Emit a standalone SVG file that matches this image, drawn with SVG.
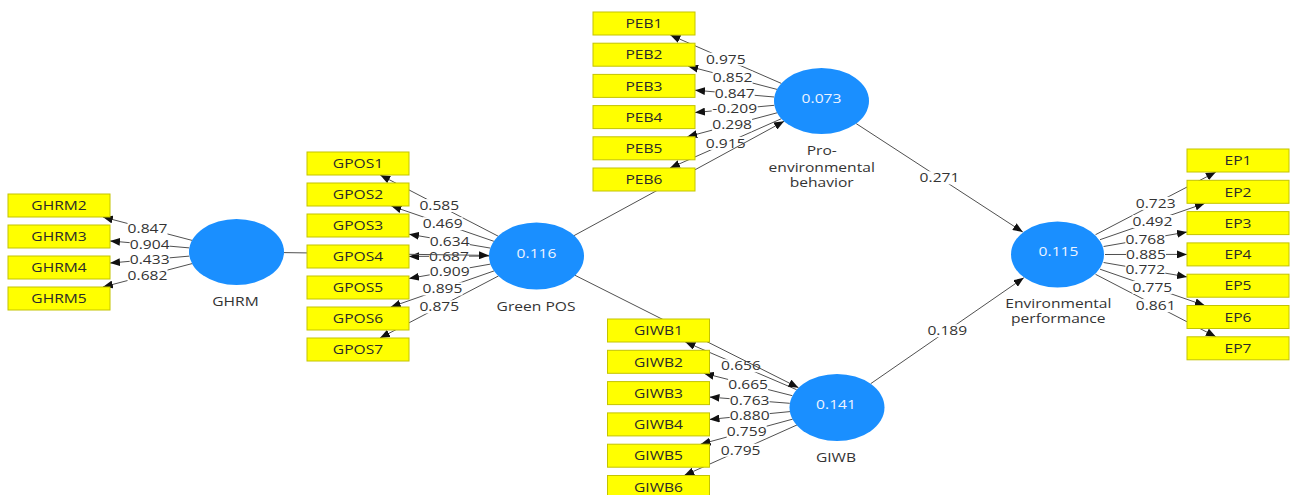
<svg xmlns="http://www.w3.org/2000/svg" width="1291" height="495" viewBox="0 0 1291 495">
<defs>
<marker id="ah" markerUnits="userSpaceOnUse" markerWidth="10" markerHeight="8" refX="10" refY="4" orient="auto"><path d="M0,0 L10,4 L0,8 z" fill="#111"/></marker>
<style>
.ln{stroke:#505050;stroke-width:1;fill:none;marker-end:url(#ah)}
.lb{fill:#fff}
.lt{font-family:"Open Sans","Noto Sans",sans-serif;font-size:12px;fill:#333;text-anchor:middle}
.box{fill:#ffff00;stroke:#c4c400;stroke-width:1}
.bt{font-family:"Open Sans","Noto Sans",sans-serif;font-size:12px;fill:#2a2a2a;text-anchor:middle}
.cir{fill:#1a8fff}
.ct{font-family:"Open Sans","Noto Sans",sans-serif;font-size:12px;fill:#eef4ff;text-anchor:middle}
.nt{font-family:"Open Sans","Noto Sans",sans-serif;font-size:12px;fill:#333;text-anchor:middle}
</style>
</defs>
<rect width="1291" height="495" fill="#fff"/>
<g id="connectors">
<!-- GHRM loadings -->
<line class="ln" x1="192.1" y1="240.4" x2="102.9" y2="217"/>
<line class="ln" x1="189.4" y1="247.9" x2="110" y2="240.95"/>
<line class="ln" x1="189.4" y1="256.1" x2="110" y2="263.05"/>
<line class="ln" x1="192.1" y1="263.6" x2="102.9" y2="287"/>
<!-- GPOS loadings -->
<line class="ln" x1="498.4" y1="236.3" x2="380.2" y2="175"/>
<line class="ln" x1="493.9" y1="241.3" x2="391.4" y2="206"/>
<line class="ln" x1="490.4" y1="248.1" x2="409" y2="234.2"/>
<line class="ln" x1="489" y1="256.1" x2="409" y2="256.4"/>
<line class="ln" x1="490.5" y1="264.1" x2="409" y2="278.5"/>
<line class="ln" x1="494.1" y1="270.9" x2="390.8" y2="307"/>
<line class="ln" x1="498.6" y1="275.9" x2="380" y2="338"/>
<!-- PEB loadings -->
<line class="ln" x1="781.3" y1="83.4" x2="670.3" y2="35"/>
<line class="ln" x1="777" y1="89.4" x2="688.1" y2="66.2"/>
<line class="ln" x1="774.3" y1="97" x2="695" y2="90.2"/>
<line class="ln" x1="774.4" y1="105.3" x2="695" y2="112.5"/>
<line class="ln" x1="777.1" y1="112.8" x2="687.2" y2="136.8"/>
<line class="ln" x1="781.4" y1="118.7" x2="670" y2="168"/>
<!-- GIWB loadings -->
<line class="ln" x1="796.6" y1="389.7" x2="685.3" y2="342"/>
<line class="ln" x1="792.4" y1="395.7" x2="703.9" y2="373.3"/>
<line class="ln" x1="789.8" y1="403.3" x2="709.5" y2="397.1"/>
<line class="ln" x1="790" y1="411.6" x2="709.5" y2="419.4"/>
<line class="ln" x1="792.8" y1="419.1" x2="700.6" y2="444.2"/>
<line class="ln" x1="797.1" y1="424.9" x2="684.2" y2="475.5"/>
<!-- EP loadings -->
<line class="ln" x1="1095.5" y1="234.7" x2="1215.9" y2="172"/>
<line class="ln" x1="1100" y1="239.7" x2="1204.9" y2="203.3"/>
<line class="ln" x1="1103.6" y1="246.5" x2="1187" y2="232"/>
<line class="ln" x1="1105" y1="254.5" x2="1187" y2="254.4"/>
<line class="ln" x1="1103.6" y1="262.5" x2="1187" y2="276.9"/>
<line class="ln" x1="1100" y1="269.2" x2="1204.8" y2="305.5"/>
<line class="ln" x1="1095.5" y1="274.3" x2="1215.9" y2="336.8"/>
<!-- loading labels -->
<rect class="lb" x="127.5" y="222.2" width="40" height="13"/><text class="lt" transform="matrix(1.3 0 0 1 147.5 233)">0.847</text>
<rect class="lb" x="129.7" y="237.9" width="40" height="13"/><text class="lt" transform="matrix(1.3 0 0 1 149.7 248.7)">0.904</text>
<rect class="lb" x="129.7" y="253.1" width="40" height="13"/><text class="lt" transform="matrix(1.3 0 0 1 149.7 263.9)">0.433</text>
<rect class="lb" x="127.5" y="268.8" width="40" height="13"/><text class="lt" transform="matrix(1.3 0 0 1 147.5 279.6)">0.682</text>

<rect class="lb" x="419.3" y="199.1" width="40" height="13"/><text class="lt" transform="matrix(1.3 0 0 1 439.3 209.9)">0.585</text>
<rect class="lb" x="422.7" y="217.2" width="40" height="13"/><text class="lt" transform="matrix(1.3 0 0 1 442.7 228)">0.469</text>
<rect class="lb" x="429.7" y="234.7" width="40" height="13"/><text class="lt" transform="matrix(1.3 0 0 1 449.7 245.5)">0.634</text>
<rect class="lb" x="429" y="249.8" width="40" height="13"/><text class="lt" transform="matrix(1.3 0 0 1 449 260.6)">0.687</text>
<rect class="lb" x="429.7" y="264.8" width="40" height="13"/><text class="lt" transform="matrix(1.3 0 0 1 449.7 275.6)">0.909</text>
<rect class="lb" x="422.5" y="282.4" width="40" height="13"/><text class="lt" transform="matrix(1.3 0 0 1 442.5 293.2)">0.895</text>
<rect class="lb" x="419.3" y="300.4" width="40" height="13"/><text class="lt" transform="matrix(1.3 0 0 1 439.3 311.2)">0.875</text>

<rect class="lb" x="705.8" y="52.7" width="40" height="13"/><text class="lt" transform="matrix(1.3 0 0 1 725.8 63.5)">0.975</text>
<rect class="lb" x="712.6" y="71.3" width="40" height="13"/><text class="lt" transform="matrix(1.3 0 0 1 732.6 82.1)">0.852</text>
<rect class="lb" x="714.7" y="87.1" width="40" height="13"/><text class="lt" transform="matrix(1.3 0 0 1 734.7 97.9)">0.847</text>
<rect class="lb" x="711.7" y="102.4" width="46" height="13"/><text class="lt" transform="matrix(1.3 0 0 1 734.7 113.2)">-0.209</text>
<rect class="lb" x="712.1" y="118.3" width="40" height="13"/><text class="lt" transform="matrix(1.3 0 0 1 732.1 129.1)">0.298</text>
<rect class="lb" x="705.7" y="136.9" width="40" height="13"/><text class="lt" transform="matrix(1.3 0 0 1 725.7 147.7)">0.915</text>

<rect class="lb" x="721" y="359.3" width="40" height="13"/><text class="lt" transform="matrix(1.3 0 0 1 741 370.1)">0.656</text>
<rect class="lb" x="728.1" y="378" width="40" height="13"/><text class="lt" transform="matrix(1.3 0 0 1 748.1 388.8)">0.665</text>
<rect class="lb" x="729.6" y="393.7" width="40" height="13"/><text class="lt" transform="matrix(1.3 0 0 1 749.6 404.5)">0.763</text>
<rect class="lb" x="729.7" y="409" width="40" height="13"/><text class="lt" transform="matrix(1.3 0 0 1 749.7 419.8)">0.880</text>
<rect class="lb" x="726.7" y="425.1" width="40" height="13"/><text class="lt" transform="matrix(1.3 0 0 1 746.7 435.9)">0.759</text>
<rect class="lb" x="720.6" y="443.7" width="40" height="13"/><text class="lt" transform="matrix(1.3 0 0 1 740.6 454.5)">0.795</text>

<rect class="lb" x="1135.7" y="196.9" width="40" height="13"/><text class="lt" transform="matrix(1.3 0 0 1 1155.7 207.7)">0.723</text>
<rect class="lb" x="1132.5" y="215" width="40" height="13"/><text class="lt" transform="matrix(1.3 0 0 1 1152.5 225.8)">0.492</text>
<rect class="lb" x="1125.3" y="232.7" width="40" height="13"/><text class="lt" transform="matrix(1.3 0 0 1 1145.3 243.5)">0.768</text>
<rect class="lb" x="1126" y="248" width="40" height="13"/><text class="lt" transform="matrix(1.3 0 0 1 1146 258.8)">0.885</text>
<rect class="lb" x="1125.3" y="263.2" width="40" height="13"/><text class="lt" transform="matrix(1.3 0 0 1 1145.3 274)">0.772</text>
<rect class="lb" x="1132.4" y="280.9" width="40" height="13"/><text class="lt" transform="matrix(1.3 0 0 1 1152.4 291.7)">0.775</text>
<rect class="lb" x="1135.7" y="299.1" width="40" height="13"/><text class="lt" transform="matrix(1.3 0 0 1 1155.7 309.9)">0.861</text>
<!-- structural paths -->
<line class="ln" x1="284" y1="252.6" x2="489" y2="255.4"/>
<line class="ln" x1="573.9" y1="235.7" x2="784.1" y2="121.3"/>
<line class="ln" x1="575" y1="275.3" x2="798.5" y2="387.7"/>
<line class="ln" x1="856.2" y1="123.6" x2="1022.8" y2="232"/>
<line class="ln" x1="870.7" y1="383.7" x2="1023.8" y2="277.8"/>
<rect class="lb" x="919.5" y="171.3" width="40" height="13"/><text class="lt" transform="matrix(1.3 0 0 1 939.5 182.1)">0.271</text>
<rect class="lb" x="927.3" y="324.3" width="40" height="13"/><text class="lt" transform="matrix(1.3 0 0 1 947.3 335.1)">0.189</text>
</g>

<g id="GHRM">
<ellipse class="cir" cx="236.5" cy="252" rx="47.5" ry="33"/>
<text class="nt" transform="matrix(1.3 0 0 1 235.5 306)">GHRM</text>
</g>
<g id="GreenPOS">
<ellipse class="cir" cx="536.5" cy="256" rx="47.5" ry="33.5"/>
<text class="ct" transform="matrix(1.3 0 0 1 536.5 257.7)">0.116</text>
<text class="nt" transform="matrix(1.3 0 0 1 536 310.5)">Green POS</text>
</g>
<g id="PEB">
<ellipse class="cir" cx="821.5" cy="101" rx="47.5" ry="33"/>
<text class="ct" transform="matrix(1.3 0 0 1 821.5 103.3)">0.073</text>
<text class="nt" transform="matrix(1.3 0 0 1 821.7 155)">Pro-</text>
<text class="nt" transform="matrix(1.3 0 0 1 821.7 171.5)">environmental</text>
<text class="nt" transform="matrix(1.3 0 0 1 821.7 187)">behavior</text>
</g>
<g id="GIWB">
<ellipse class="cir" cx="837" cy="407.5" rx="47.5" ry="33.5"/>
<text class="ct" transform="matrix(1.3 0 0 1 836 409)">0.141</text>
<text class="nt" transform="matrix(1.3 0 0 1 836 461.5)">GIWB</text>
</g>
<g id="EP">
<ellipse class="cir" cx="1057.5" cy="254.5" rx="46.5" ry="33"/>
<text class="ct" transform="matrix(1.3 0 0 1 1058.5 255.7)">0.115</text>
<text class="nt" transform="matrix(1.3 0 0 1 1058.3 307.7)">Environmental</text>
<text class="nt" transform="matrix(1.3 0 0 1 1058.3 322.5)">performance</text>
</g>

<g id="GHRM2"><rect class="box" x="8" y="194" width="102" height="23"/><text class="bt" transform="matrix(1.3 0 0 1 59 210.2)">GHRM2</text></g>
<g id="GHRM3"><rect class="box" x="8" y="225" width="102" height="23"/><text class="bt" transform="matrix(1.3 0 0 1 59 241.2)">GHRM3</text></g>
<g id="GHRM4"><rect class="box" x="8" y="256" width="102" height="23"/><text class="bt" transform="matrix(1.3 0 0 1 59 272.2)">GHRM4</text></g>
<g id="GHRM5"><rect class="box" x="8" y="287" width="102" height="23"/><text class="bt" transform="matrix(1.3 0 0 1 59 303.2)">GHRM5</text></g>

<g id="GPOS1"><rect class="box" x="307" y="152" width="102" height="23"/><text class="bt" transform="matrix(1.3 0 0 1 358 168.2)">GPOS1</text></g>
<g id="GPOS2"><rect class="box" x="307" y="183" width="102" height="23"/><text class="bt" transform="matrix(1.3 0 0 1 358 199.2)">GPOS2</text></g>
<g id="GPOS3"><rect class="box" x="307" y="214" width="102" height="23"/><text class="bt" transform="matrix(1.3 0 0 1 358 230.2)">GPOS3</text></g>
<g id="GPOS4"><rect class="box" x="307" y="245" width="102" height="23"/><text class="bt" transform="matrix(1.3 0 0 1 358 261.2)">GPOS4</text></g>
<g id="GPOS5"><rect class="box" x="307" y="276" width="102" height="23"/><text class="bt" transform="matrix(1.3 0 0 1 358 292.2)">GPOS5</text></g>
<g id="GPOS6"><rect class="box" x="307" y="307" width="102" height="23"/><text class="bt" transform="matrix(1.3 0 0 1 358 323.2)">GPOS6</text></g>
<g id="GPOS7"><rect class="box" x="307" y="338" width="102" height="23"/><text class="bt" transform="matrix(1.3 0 0 1 358 354.2)">GPOS7</text></g>

<g id="PEB1"><rect class="box" x="593" y="12" width="102" height="23"/><text class="bt" transform="matrix(1.3 0 0 1 644 28.2)">PEB1</text></g>
<g id="PEB2"><rect class="box" x="593" y="43.2" width="102" height="23"/><text class="bt" transform="matrix(1.3 0 0 1 644 59.4)">PEB2</text></g>
<g id="PEB3"><rect class="box" x="593" y="74.4" width="102" height="23"/><text class="bt" transform="matrix(1.3 0 0 1 644 90.6)">PEB3</text></g>
<g id="PEB4"><rect class="box" x="593" y="105.6" width="102" height="23"/><text class="bt" transform="matrix(1.3 0 0 1 644 121.8)">PEB4</text></g>
<g id="PEB5"><rect class="box" x="593" y="136.8" width="102" height="23"/><text class="bt" transform="matrix(1.3 0 0 1 644 153)">PEB5</text></g>
<g id="PEB6"><rect class="box" x="593" y="168" width="102" height="23"/><text class="bt" transform="matrix(1.3 0 0 1 644 184.2)">PEB6</text></g>

<g id="GIWB1"><rect class="box" x="607.5" y="319" width="102" height="23"/><text class="bt" transform="matrix(1.3 0 0 1 658.5 335.2)">GIWB1</text></g>
<g id="GIWB2"><rect class="box" x="607.5" y="350.3" width="102" height="23"/><text class="bt" transform="matrix(1.3 0 0 1 658.5 366.5)">GIWB2</text></g>
<g id="GIWB3"><rect class="box" x="607.5" y="381.6" width="102" height="23"/><text class="bt" transform="matrix(1.3 0 0 1 658.5 397.8)">GIWB3</text></g>
<g id="GIWB4"><rect class="box" x="607.5" y="412.9" width="102" height="23"/><text class="bt" transform="matrix(1.3 0 0 1 658.5 429.1)">GIWB4</text></g>
<g id="GIWB5"><rect class="box" x="607.5" y="444.2" width="102" height="23"/><text class="bt" transform="matrix(1.3 0 0 1 658.5 460.4)">GIWB5</text></g>
<g id="GIWB6"><rect class="box" x="607.5" y="475.5" width="102" height="23"/><text class="bt" transform="matrix(1.3 0 0 1 658.5 491.7)">GIWB6</text></g>

<g id="EP1"><rect class="box" x="1187" y="149" width="102" height="23"/><text class="bt" transform="matrix(1.3 0 0 1 1238 165.2)">EP1</text></g>
<g id="EP2"><rect class="box" x="1187" y="180.3" width="102" height="23"/><text class="bt" transform="matrix(1.3 0 0 1 1238 196.5)">EP2</text></g>
<g id="EP3"><rect class="box" x="1187" y="211.6" width="102" height="23"/><text class="bt" transform="matrix(1.3 0 0 1 1238 227.8)">EP3</text></g>
<g id="EP4"><rect class="box" x="1187" y="242.9" width="102" height="23"/><text class="bt" transform="matrix(1.3 0 0 1 1238 259.1)">EP4</text></g>
<g id="EP5"><rect class="box" x="1187" y="274.2" width="102" height="23"/><text class="bt" transform="matrix(1.3 0 0 1 1238 290.4)">EP5</text></g>
<g id="EP6"><rect class="box" x="1187" y="305.5" width="102" height="23"/><text class="bt" transform="matrix(1.3 0 0 1 1238 321.7)">EP6</text></g>
<g id="EP7"><rect class="box" x="1187" y="336.8" width="102" height="23"/><text class="bt" transform="matrix(1.3 0 0 1 1238 353)">EP7</text></g>
</svg>
